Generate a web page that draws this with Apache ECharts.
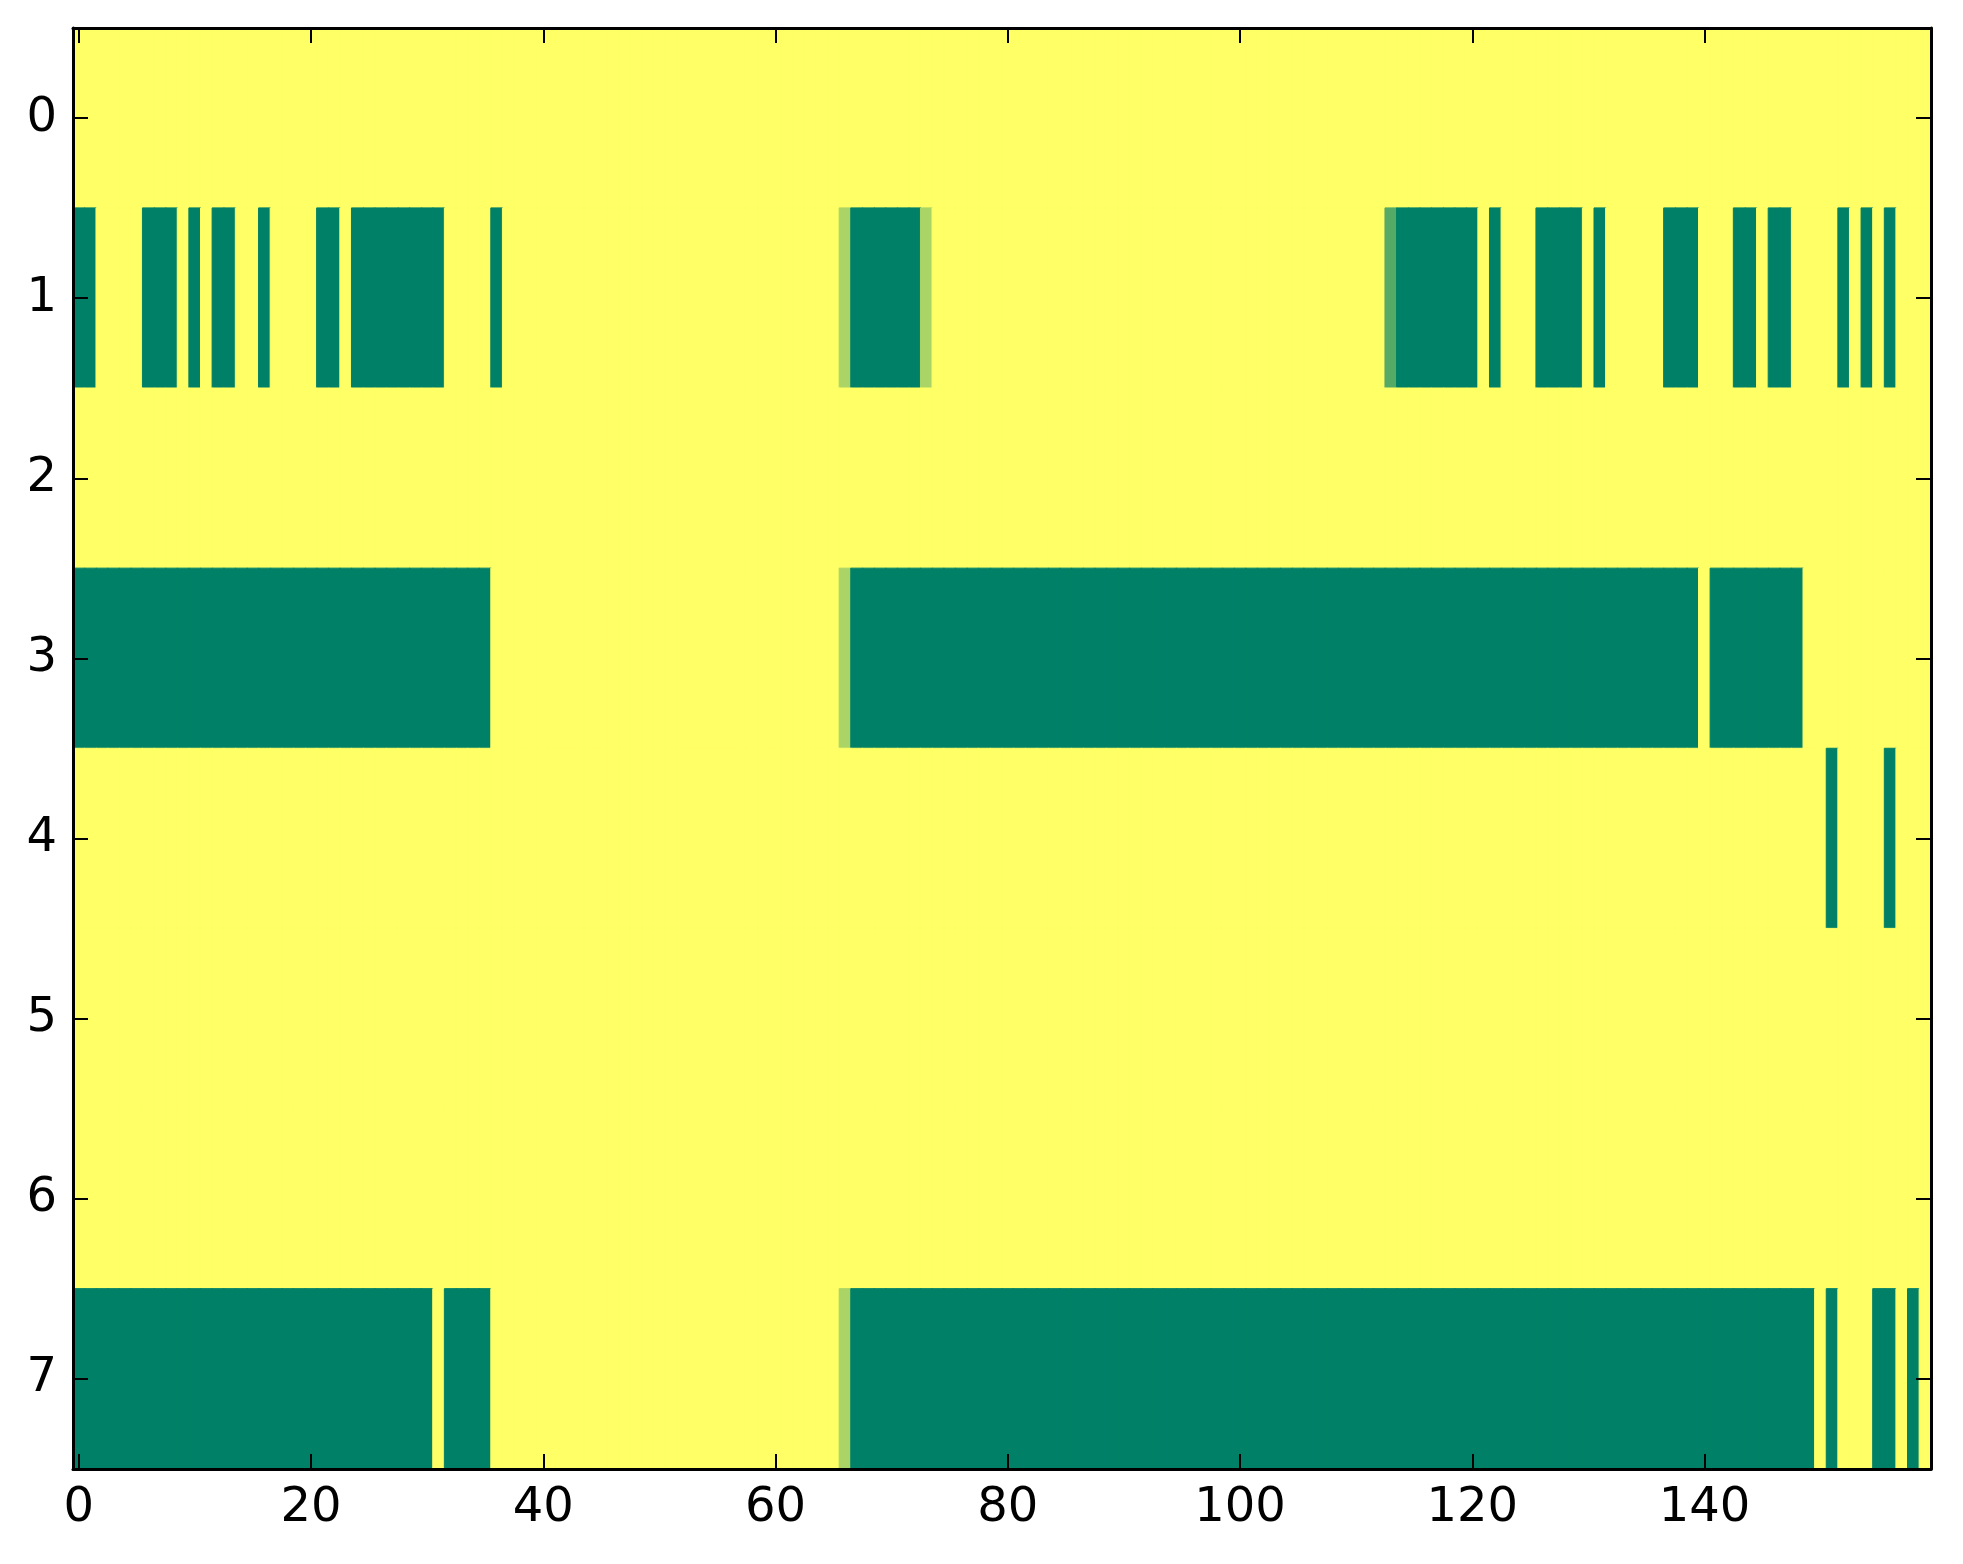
<!DOCTYPE html>
<html>
<head>
<meta charset="utf-8">
<script src="https://cdn.jsdelivr.net/npm/echarts@6/dist/echarts.min.js"></script>
<style>
  html, body { margin: 0; background: #fff; }
  #chart { width: 1963px; height: 1564px; }
</style>
</head>
<body>
<div id="chart"></div>
<script>
// cell values per row, one digit per column (0 = low/green ... 3 = high/yellow)
const row0 = ['3333333333','3333333333','3333333333','3333333333','3333333333','3333333333','3333333333','3333333333',
              '3333333333','3333333333','3333333333','3333333333','3333333333','3333333333','3333333333','3333333333'].join('')
const row1 = ['0033330003','0300330333','3003000000','0033330333','3333333333','3333333333','3333332000','0002333333',
              '3333333333','3333333333','3333333333','3331000000','0303330000','3033333000','3330030033','3303030333'].join('')
const row2 = ['3333333333','3333333333','3333333333','3333333333','3333333333','3333333333','3333333333','3333333333',
              '3333333333','3333333333','3333333333','3333333333','3333333333','3333333333','3333333333','3333333333'].join('')
const row3 = ['0000000000','0000000000','0000000000','0000003333','3333333333','3333333333','3333332000','0000000000',
              '0000000000','0000000000','0000000000','0000000000','0000000000','0000000000','3000000003','3333333333'].join('')
const row4 = ['3333333333','3333333333','3333333333','3333333333','3333333333','3333333333','3333333333','3333333333',
              '3333333333','3333333333','3333333333','3333333333','3333333333','3333333333','3333333333','3033330333'].join('')
const row5 = ['3333333333','3333333333','3333333333','3333333333','3333333333','3333333333','3333333333','3333333333',
              '3333333333','3333333333','3333333333','3333333333','3333333333','3333333333','3333333333','3333333333'].join('')
const row6 = ['3333333333','3333333333','3333333333','3333333333','3333333333','3333333333','3333333333','3333333333',
              '3333333333','3333333333','3333333333','3333333333','3333333333','3333333333','3333333333','3333333333'].join('')
const row7 = ['0000000000','0000000000','0000000000','0300003333','3333333333','3333333333','3333332000','0000000000',
              '0000000000','0000000000','0000000000','0000000000','0000000000','0000000000','0000000000','3033300303'].join('')

const rows = [row0, row1, row2, row3, row4, row5, row6, row7]
const rowLabels = ['0', '1', '2', '3', '4', '5', '6', '7']
const xTickLabels = ['0', '20', '40', '60', '80', '100', '120', '140']
// "summer" colormap sampled at the 4 levels
const levelColors = ['#008066', '#55aa66', '#aad566', '#ffff66']

const colLabels = Array.from({length: row0.length}, (_, i) => String(i))
const cells = []
rows.forEach((r, y) => {
  r.split('').forEach((ch, x) => {
    const v = Number(ch)
    // border in the same colour hides the hairline seams between cells
    cells.push({value: [x, y, v], itemStyle: {color: levelColors[v], borderColor: levelColors[v], borderWidth: 1}})
  })
})

const isTick = (i) => xTickLabels.indexOf(String(i)) !== -1
const font = {color: '#000', fontSize: 48, fontFamily: 'DejaVu Sans'}
const frame = {show: true, onZero: false, lineStyle: {color: '#000', width: 3}}
const tick = {show: true, inside: true, length: 15, lineStyle: {color: '#000', width: 2}}

const myChart = echarts.init(document.getElementById('chart'))
myChart.setOption({
  backgroundColor: '#fff',
  animation: false,
  grid: {left: 73, top: 28, width: 1858, height: 1441, containLabel: false},
  xAxis: [
    {
      type: 'category', data: colLabels, position: 'bottom', z: 10,
      axisLine: frame,
      axisTick: Object.assign({}, tick, {interval: (i) => isTick(i), alignWithLabel: true}),
      axisLabel: Object.assign({}, font, {interval: (i) => isTick(i), margin: 16}),
      splitLine: {show: false}
    },
    {
      type: 'category', data: colLabels, position: 'top', z: 10,
      axisLine: frame,
      axisTick: Object.assign({}, tick, {interval: (i) => isTick(i), alignWithLabel: true}),
      axisLabel: {show: false},
      splitLine: {show: false}
    }
  ],
  yAxis: [
    {
      type: 'category', data: rowLabels, inverse: true, position: 'left', z: 10,
      axisLine: frame,
      axisTick: Object.assign({}, tick, {interval: 0, alignWithLabel: true}),
      axisLabel: Object.assign({}, font, {interval: 0, margin: 16}),
      splitLine: {show: false}
    },
    {
      type: 'category', data: rowLabels, inverse: true, position: 'right', z: 10,
      axisLine: frame,
      axisTick: Object.assign({}, tick, {interval: 0, alignWithLabel: true}),
      axisLabel: {show: false},
      splitLine: {show: false}
    }
  ],
  series: [
    {
      type: 'heatmap', xAxisIndex: 0, yAxisIndex: 0,
      data: cells,
      emphasis: {disabled: true}
    }
  ]
})
</script>
</body>
</html>
